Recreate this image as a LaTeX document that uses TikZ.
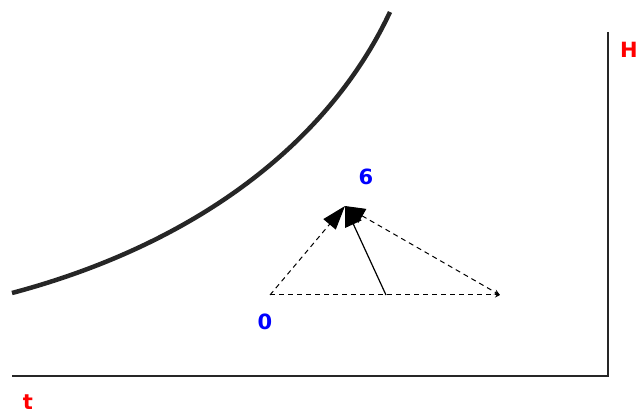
\documentclass[tikz,border=0pt]{standalone}
\usepackage{fontspec}
\setmainfont{DejaVu Sans}
\usetikzlibrary{arrows.meta}
\begin{document}
\begin{tikzpicture}[x=1pt,y=-1pt,
  lbl/.style={font=\fontsize{21}{24}\selectfont\bfseries, inner sep=0pt},
  axis/.style={line width=2.5pt, black!85},
  dsh/.style={dashed, line width=1pt, dash pattern=on 5pt off 4pt},
]
\useasboundingbox (0,0) rectangle (638,414);
% axes
\coordinate (top) at (608,32);
\coordinate (corner) at (608,376);
\coordinate (left) at (12,376);
\draw[axis] (top) -- (corner) -- (left);
\node[lbl, red, anchor=west] (H) at (620,50) {H};
\node[lbl, red] (t) at (28,402) {t};
% curve
\coordinate (c0) at (12,293);
\coordinate (c1) at (390,12);
\draw[line width=4.5pt, black!85] (c0) .. controls (200,243) and (330,140) .. (c1);
% triangle
\coordinate (O) at (270,295);
\coordinate (M) at (386,295);
\coordinate (R) at (500,295);
\coordinate (A) at (345,206);
\draw[dsh, -{Stealth[length=5pt,width=5pt]}] (O) -- (R);
\draw[dsh, -{Triangle[length=24pt,width=16pt]}] (O) -- (A);
\draw[dsh, {Triangle[length=20pt,width=16pt]}-{Stealth[length=6pt,width=5pt]}] (A) -- (R);
\draw[line width=1.2pt, -{Triangle[length=20pt,width=18pt]}] (M) -- (A);
\node[lbl, blue] (six) at (366,177) {6};
\node[lbl, blue] (zero) at (265,322) {0};
\end{tikzpicture}
\end{document}
